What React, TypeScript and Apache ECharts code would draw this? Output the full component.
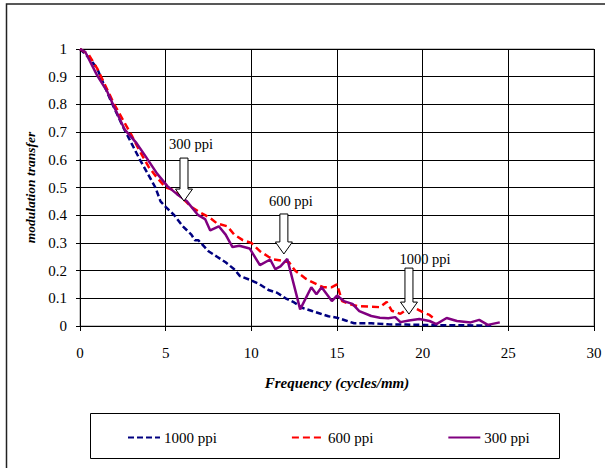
import React, { useEffect, useRef } from "react";
import * as echarts from "echarts";

// ---- data ----
const freq1000 = [0, 0.5, 1, 1.75, 2.5, 3, 3.5, 4, 4.4, 4.7, 5, 5.5, 6, 6.5, 6.7, 6.9, 7.5, 8, 8.5, 9, 9.34, 10, 10.5, 11, 11.5, 12, 12.5, 13, 13.5, 14, 14.5, 15, 15.5, 16, 17, 18, 19, 20, 21, 22, 23, 24];
const mtf1000 = [1, 0.97, 0.93, 0.82, 0.72, 0.66, 0.6, 0.545, 0.5, 0.45, 0.43, 0.4, 0.36, 0.33, 0.31, 0.31, 0.27, 0.25, 0.23, 0.205, 0.18, 0.165, 0.15, 0.13, 0.12, 0.1, 0.085, 0.065, 0.055, 0.045, 0.035, 0.03, 0.02, 0.01, 0.01, 0.006, 0.005, 0.004, 0.003, 0.003, 0.002, 0.002];

const freq600 = [0, 0.5, 1, 2, 3, 3.5, 4, 4.5, 5, 5.5, 6, 6.5, 7, 7.3, 7.6, 8, 8.6, 9, 9.5, 10, 10.5, 11, 11.3, 11.85, 12.2, 12.55, 13.2, 13.5, 14.2, 14.7, 15, 15.3, 15.7, 16.2, 16.8, 17.5, 17.9, 18.2, 18.7, 19.3, 19.7, 20.0, 20.4, 20.6];
const mtf600 = [1, 0.98, 0.93, 0.8, 0.69, 0.63, 0.575, 0.535, 0.5, 0.49, 0.46, 0.43, 0.41, 0.4, 0.39, 0.37, 0.36, 0.33, 0.31, 0.3, 0.27, 0.25, 0.24, 0.235, 0.23, 0.2, 0.17, 0.16, 0.14, 0.14, 0.15, 0.09, 0.08, 0.072, 0.07, 0.068, 0.087, 0.055, 0.044, 0.07, 0.06, 0.05, 0.04, 0.03];

const freq300 = [0, 0.3, 1, 1.6, 2, 2.6, 3.3, 3.8, 4.5, 5.1, 5.66, 6.24, 6.9, 7.3, 7.6, 8.1, 8.5, 8.9, 9.3, 9.9, 10.5, 11.1, 11.4, 11.7, 12.1, 12.85, 13.5, 13.8, 14.1, 14.7, 15, 15.4, 15.9, 16.3, 17, 17.5, 18, 18.4, 18.7, 19.2, 19.8, 20.4, 20.8, 21.4, 22, 22.8, 23.3, 23.8, 24.5];
const mtf300 = [1, 0.99, 0.905, 0.845, 0.79, 0.71, 0.66, 0.615, 0.55, 0.505, 0.476, 0.45, 0.4, 0.386, 0.345, 0.36, 0.33, 0.285, 0.29, 0.28, 0.22, 0.24, 0.205, 0.215, 0.242, 0.06, 0.14, 0.115, 0.14, 0.09, 0.11, 0.09, 0.08, 0.054, 0.036, 0.03, 0.028, 0.032, 0.014, 0.02, 0.025, 0.018, 0.007, 0.029, 0.018, 0.013, 0.022, 0.004, 0.013];

const seriesNames = ["1000 ppi", "600 ppi", "300 ppi"];

// annotation arrows: label and arrow tip in data coordinates
const annoLabels = ["300 ppi", "600 ppi", "1000 ppi"];
const annoTipX = [6.07, 11.9, 19.2];
const annoTipY = [0.451, 0.26, 0.043];

const xTitle = "Frequency (cycles/mm)";
const yTitle = "modulation transfer";

// layout of annotations (pixels)
const annoLen = [43, 40, 46];
const annoTextDx = [7, 7, 16];
const annoTextGap = [14, 13, 9];

const zip = (xs: number[], ys: number[]) => xs.map((x, i) => [x, ys[i]]);

const FONT = "Liberation Serif";

export default function App() {
  const ref = useRef<HTMLDivElement>(null);
  useEffect(() => {
    document.body.style.margin = "0";
    const chart = echarts.init(ref.current!, null, { renderer: "svg" });
    chart.setOption({
      animation: false,
      backgroundColor: "#fff",
      textStyle: { fontFamily: FONT, color: "#000" },
      grid: { left: 80, top: 49, width: 514, height: 277, show: true, borderColor: "#888", borderWidth: 1 },
      xAxis: {
        type: "value",
        min: 0,
        max: 30,
        interval: 5,
        name: xTitle,
        nameLocation: "middle",
        nameGap: 49,
        nameTextStyle: { fontFamily: FONT, fontSize: 15, fontWeight: "bold", fontStyle: "italic", color: "#000" },
        axisLine: { show: true, lineStyle: { color: "#000", width: 1 } },
        axisTick: { show: true, length: 5, lineStyle: { color: "#000" } },
        axisLabel: { fontFamily: FONT, fontSize: 15, color: "#000", margin: 19 },
        splitLine: { show: true, lineStyle: { color: "#000", width: 1 } },
      },
      yAxis: {
        type: "value",
        min: 0,
        max: 1,
        interval: 0.1,
        name: yTitle,
        nameLocation: "middle",
        nameGap: 41,
        nameTextStyle: { fontFamily: FONT, fontSize: 13.5, fontWeight: "bold", fontStyle: "italic", color: "#000" },
        axisLine: { show: true, lineStyle: { color: "#000", width: 1 } },
        axisTick: { show: true, length: 4, lineStyle: { color: "#000" } },
        axisLabel: { fontFamily: FONT, fontSize: 15, color: "#000", margin: 13 },
        splitLine: { show: true, lineStyle: { color: "#000", width: 1 } },
      },
      legend: {
        left: 127,
        top: 430,
        itemWidth: 32,
        itemHeight: 14,
        itemGap: 74,
        padding: 0,
        itemStyle: { opacity: 0 },
        textStyle: { fontFamily: FONT, fontSize: 15, color: "#000", padding: [0, 0, 0, -1] },
        data: seriesNames,
      },
      series: [
        {
          name: seriesNames[0],
          type: "line",
          data: zip(freq1000, mtf1000),
          symbol: "none",
          lineStyle: { color: "#000080", width: 2.5, type: [6, 3] },
          itemStyle: { color: "#000080" },
          z: 3,
        },
        {
          name: seriesNames[1],
          type: "line",
          data: zip(freq600, mtf600),
          symbol: "none",
          lineStyle: { color: "#ff0000", width: 2.5, type: [7, 4] },
          itemStyle: { color: "#ff0000" },
          z: 4,
        },
        {
          name: seriesNames[2],
          type: "line",
          data: zip(freq300, mtf300),
          symbol: "none",
          lineStyle: { color: "#800080", width: 2.5 },
          itemStyle: { color: "#800080" },
          z: 5,
        },
      ],
    });

    const elements: any[] = [
      {
        type: "rect",
        shape: { x: 6.5, y: 4, width: 640, height: 500 },
        style: { fill: "none", stroke: "#222", lineWidth: 1.5 },
        silent: true,
      },
      {
        type: "rect",
        shape: { x: 90.5, y: 413.5, width: 469, height: 45 },
        style: { fill: "none", stroke: "#000", lineWidth: 1 },
        silent: true,
      },
    ];
    annoLabels.forEach((label, i) => {
      const [tx, ty] = chart.convertToPixel({ gridIndex: 0 }, [annoTipX[i], annoTipY[i]]) as number[];
      const L = annoLen[i];
      const sw = 4;
      const hw = 8.5;
      const hh = 12;
      const top = ty - L;
      elements.push({
        type: "polygon",
        shape: {
          points: [
            [tx - sw, top],
            [tx + sw, top],
            [tx + sw, ty - hh],
            [tx + hw, ty - hh],
            [tx, ty],
            [tx - hw, ty - hh],
            [tx - sw, ty - hh],
          ],
        },
        style: { fill: "#fff", stroke: "#000", lineWidth: 1 },
        z: 10,
      });
      elements.push({
        type: "text",
        x: tx + annoTextDx[i],
        y: top - annoTextGap[i],
        style: {
          text: label,
          fontFamily: FONT,
          fontSize: 14.5,
          fill: "#000",
          align: "center",
          verticalAlign: "middle",
        },
        z: 10,
      });
    });
    chart.setOption({ graphic: { elements } });

    return () => chart.dispose();
  }, []);
  return <div ref={ref} style={{ width: 605, height: 468 }} />;
}
